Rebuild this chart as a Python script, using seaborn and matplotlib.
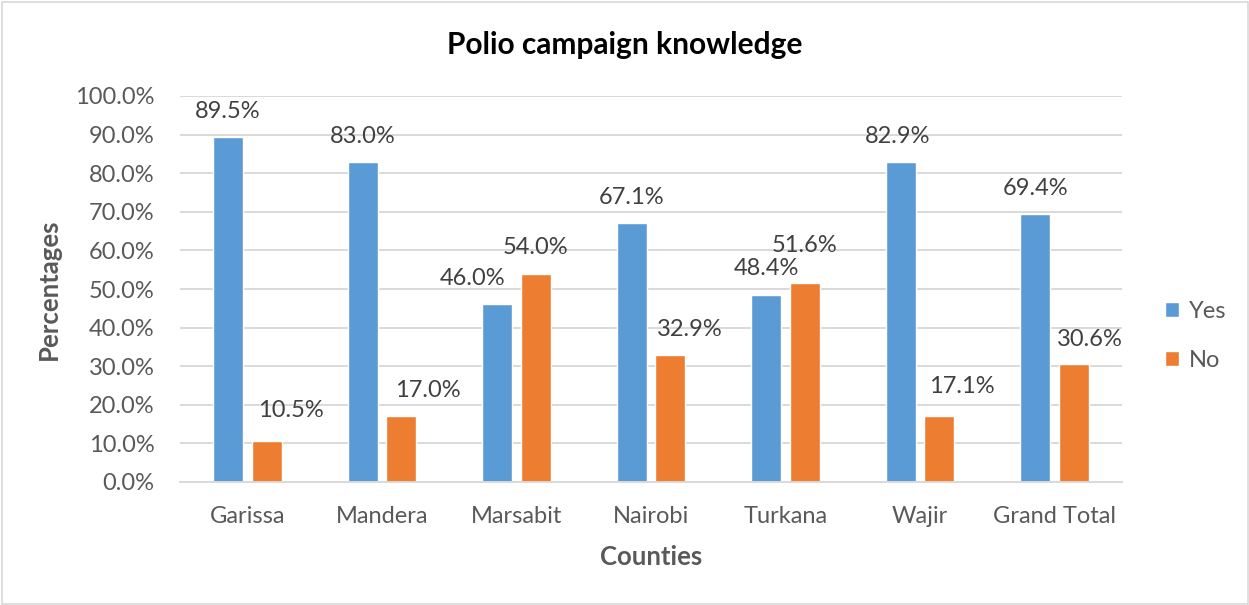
import numpy as np
import pandas as pd
import matplotlib
matplotlib.use("Agg")
import matplotlib.pyplot as plt
from matplotlib.patches import Rectangle
import seaborn as sns

# --- data -------------------------------------------------------------
counties = ["Garissa", "Mandera", "Marsabit", "Nairobi", "Turkana", "Wajir", "Grand Total"]
yes_pct = [89.5, 83.0, 46.0, 67.1, 48.4, 82.9, 69.4]
no_pct = [10.5, 17.0, 54.0, 32.9, 51.6, 17.1, 30.6]
responses = ["Yes", "No"]
y_ticks = np.arange(0, 101, 10)

# data-label nudges in pixels: (dx, gap above the bar top)
yes_nudge = [(0, 19), (0, 19), (-25, 19), (0, 19), (0, 20), (-3, 19), (0, 19)]
no_nudge = [(24, 24), (27, 19), (0, 20), (20, 19), (0, 31), (22, 23), (16, 18)]

# --- style ------------------------------------------------------------
sns.set_theme(style="white")
plt.rcParams["font.family"] = ["Lato", "DejaVu Sans"]

BLUE, ORANGE = "#5B9BD5", "#ED7D31"
GRID = "#D9D9D9"
TICK_C = "#595959"
LABEL_C = "#404040"
FS = 17
W, H = 1249, 605

df = pd.DataFrame({
    "County": counties * 2,
    "Response": ["Yes"] * len(counties) + ["No"] * len(counties),
    "Pct": yes_pct + no_pct,
})

fig = plt.figure(figsize=(W / 100, H / 100), dpi=100)
fig.patch.set_facecolor("white")
ax = fig.add_axes([180 / W, 1 - 482 / H, 942 / W, 386 / H])

sns.barplot(data=df, x="County", y="Pct", hue="Response", hue_order=responses,
            palette=[BLUE, ORANGE], saturation=1, width=0.572, gap=0.22,
            errorbar=None, ax=ax)

ax.set_ylim(0, 100)
ax.set_xlim(-0.5, len(counties) - 0.5)
ax.set_yticks(y_ticks)
ax.set_yticklabels([f"{t:.1f}%" for t in y_ticks])
ax.yaxis.grid(True, color=GRID, lw=1.4)
ax.set_axisbelow(True)
for s in ["left", "right", "top"]:
    ax.spines[s].set_visible(False)
ax.spines["bottom"].set_color(GRID)
ax.spines["bottom"].set_linewidth(1.4)
ax.tick_params(axis="y", length=0, pad=18.5, labelsize=FS, labelcolor=TICK_C)
ax.tick_params(axis="x", length=0, pad=17, labelsize=FS, labelcolor=TICK_C)

ax.set_xlabel("Counties", fontsize=18.5, fontweight="bold", color=TICK_C, labelpad=13)
ax.set_ylabel("Percentages", fontsize=18.5, fontweight="bold", color=TICK_C, labelpad=10)

# data labels
px = 72 / 100
for cont, nudges in zip(ax.containers, [yes_nudge, no_nudge]):
    for bar, (dx, dy) in zip(cont, nudges):
        v = bar.get_height()
        ax.annotate(f"{v:.1f}%", xy=(bar.get_x() + bar.get_width() / 2, v),
                    xytext=(dx * px, dy * px), textcoords="offset points",
                    ha="center", va="baseline", fontsize=FS, color=LABEL_C)

# legend
handles, labels = ax.get_legend_handles_labels()
ax.legend(handles, labels, loc="center left",
          bbox_to_anchor=(1165 / W, 1 - 336 / H), bbox_transform=fig.transFigure,
          frameon=False, fontsize=FS, labelcolor=TICK_C,
          handlelength=0.6, handleheight=0.6, handletextpad=0.4,
          labelspacing=1.2, borderpad=0, borderaxespad=0)

fig.text(0.5, 1 - 45 / H, "Polio campaign knowledge", ha="center", va="center",
         fontsize=21.5, fontweight="bold", color="#000000")

# chart border
fig.patches.append(Rectangle((1.5 / W, 1.5 / H), 1 - 3 / W, 1 - 3 / H,
                             transform=fig.transFigure, fill=False,
                             edgecolor=GRID, lw=1.2))

fig.savefig("out.png", dpi=100)
